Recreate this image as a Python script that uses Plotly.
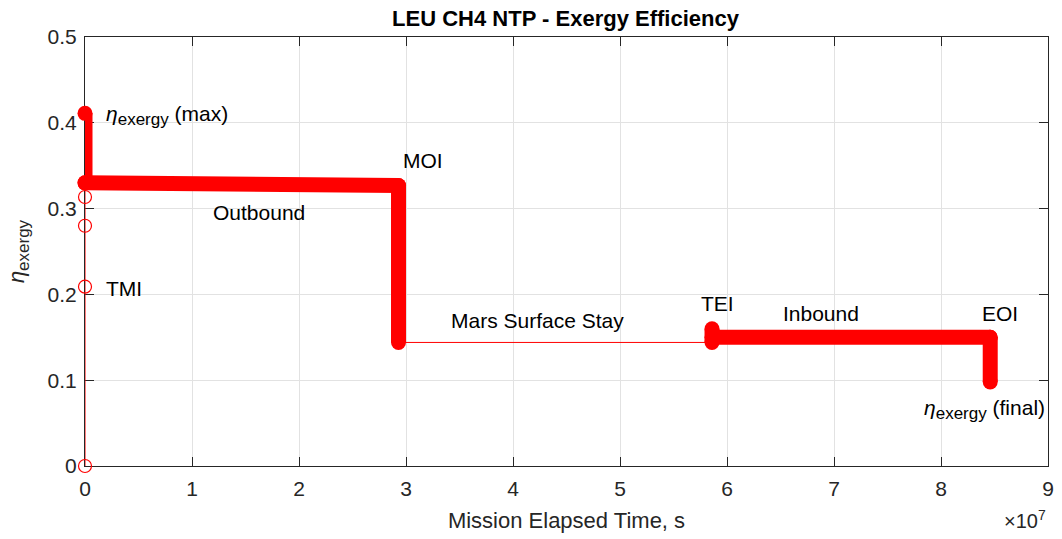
import plotly.graph_objects as go

# ---- data (time in s, exergy efficiency) ----
# full trajectory (thin connecting line)
path_t = [0, 0, 0, 0, 0, 0, 2.93e7, 2.93e7, 5.86e7, 5.86e7, 5.86e7, 8.46e7, 8.46e7]
path_eta = [0.0, 0.209, 0.280, 0.3135, 0.411, 0.330, 0.327, 0.144, 0.144, 0.160, 0.150, 0.150, 0.098]

# isolated samples during TMI burn
tmi_t = [0, 0, 0, 0]
tmi_eta = [0.0, 0.209, 0.280, 0.3135]

# densely sampled phases (drawn as solid bands of overlapping markers)
band_t = [0, 0, None, 0, 2.93e7, None, 2.93e7, 2.93e7, None,
          5.86e7, 5.86e7, None, 5.86e7, 8.46e7, None, 8.46e7, 8.46e7]
band_eta = [0.411, 0.330, None, 0.330, 0.327, None, 0.327, 0.144, None,
            0.144, 0.160, None, 0.150, 0.150, None, 0.150, 0.098]

x_ticks = [0, 1e7, 2e7, 3e7, 4e7, 5e7, 6e7, 7e7, 8e7, 9e7]
x_tick_text = ["0", "1", "2", "3", "4", "5", "6", "7", "8", "9"]
y_ticks = [0, 0.1, 0.2, 0.3, 0.4, 0.5]
y_tick_text = ["0", "0.1", "0.2", "0.3", "0.4", "0.5"]

ETA = "<i>η</i><sub><span style='font-size:17px'>exergy</span></sub>"

labels = [
    (ETA + " (max)", 0.178e7, 0.409),
    ("MOI", 2.95e7, 0.3566),
    ("Outbound", 1.18e7, 0.295),
    ("TMI", 0.178e7, 0.2063),
    ("Mars Surface Stay", 3.40e7, 0.170),
    ("TEI", 5.74e7, 0.189),
    ("Inbound", 6.50e7, 0.178),
    ("EOI", 8.36e7, 0.178),
    (ETA + " (final)", 7.82e7, 0.066),
]

RED = "#ff0000"
AX = "#262626"
FONT = "Liberation Sans, Arial, sans-serif"

fig = go.Figure()
fig.add_trace(go.Scatter(x=path_t, y=path_eta, mode="lines",
                         line=dict(color=RED, width=1), hoverinfo="skip",
                         showlegend=False, cliponaxis=False))
fig.add_trace(go.Scatter(x=tmi_t, y=tmi_eta, mode="markers",
                         marker=dict(symbol="circle-open", size=13, color=RED,
                                     line=dict(width=1.2, color=RED)),
                         showlegend=False, cliponaxis=False))
fig.add_trace(go.Scatter(x=band_t, y=band_eta, mode="lines+markers",
                         line=dict(color=RED, width=15),
                         marker=dict(symbol="circle", size=15, color=RED, line=dict(width=0)),
                         connectgaps=False, showlegend=False, cliponaxis=False))

for txt, x, y in labels:
    fig.add_annotation(x=x, y=y, xref="x", yref="y", text=txt, showarrow=False,
                       xanchor="left", yanchor="middle",
                       font=dict(family=FONT, size=21, color="black"))

fig.add_annotation(x=1.0, y=-0.125, xref="paper", yref="paper",
                   text="×10<sup>7</sup>", showarrow=False,
                   xanchor="right", yanchor="middle",
                   font=dict(family=FONT, size=20, color=AX))

axis_common = dict(showline=True, linecolor=AX, linewidth=1, mirror="ticks",
                   ticks="inside", ticklen=9, tickwidth=1, tickcolor=AX,
                   showgrid=True, gridcolor="#e2e2e2", gridwidth=1,
                   zeroline=False, layer="below traces", automargin=False,
                   tickfont=dict(family=FONT, size=21, color=AX))

fig.update_xaxes(range=[0, 9e7], tickvals=x_ticks, ticktext=x_tick_text,
                 ticklabelstandoff=4,
                 title=dict(text="Mission Elapsed Time, s", standoff=13,
                            font=dict(family=FONT, size=22, color=AX)),
                 **axis_common)
fig.update_yaxes(range=[0, 0.5], tickvals=y_ticks, ticktext=y_tick_text,
                 ticklabelstandoff=3,
                 title=dict(text="<i>η</i><sub><span style='font-size:17px'>exergy</span></sub>",
                            standoff=16,
                            font=dict(family=FONT, size=22, color=AX)),
                 **axis_common)

fig.update_layout(
    width=1062, height=539,
    margin=dict(l=85, r=14, t=37, b=73, autoexpand=False),
    paper_bgcolor="white", plot_bgcolor="white",
    title=dict(text="<b>LEU CH4 NTP - Exergy Efficiency</b>", x=0.5325, xanchor="center",
               y=0.966, yanchor="middle", automargin=False,
               font=dict(family=FONT, size=22, color="black")),
)

fig.write_html("out.html")
